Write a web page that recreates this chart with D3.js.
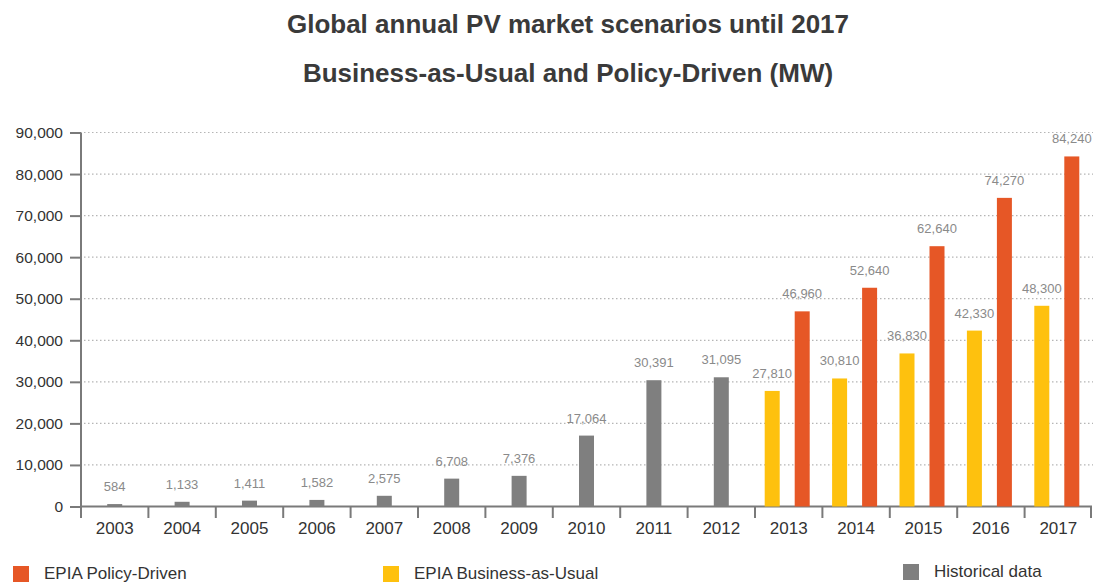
<!DOCTYPE html>
<html>
<head>
<meta charset="utf-8">
<script src="https://cdn.jsdelivr.net/npm/d3@7"></script>
<style>
  html, body { margin: 0; padding: 0; background: #fff; }
  svg { display: block; font-family: "Liberation Sans", Arial, Helvetica, sans-serif; }
</style>
</head>
<body>
<svg id="chart" width="1093" height="584"></svg>
<script>
// Annual installed PV capacity (MW)
const years = ["2003","2004","2005","2006","2007","2008","2009","2010",
               "2011","2012","2013","2014","2015","2016","2017"];
const historicalYears = ["2003","2004","2005","2006","2007","2008","2009","2010","2011","2012"];
const historicalValues = [584, 1133, 1411, 1582, 2575, 6708, 7376, 17064, 30391, 31095];
const scenarioYears = ["2013","2014","2015","2016","2017"];
const businessAsUsual = [27810, 30810, 36830, 42330, 48300];
const policyDriven = [46960, 52640, 62640, 74270, 84240];
const yTicks = [0, 10000, 20000, 30000, 40000, 50000, 60000, 70000, 80000, 90000];
const titleLines = ["Global annual PV market scenarios until 2017",
                    "Business-as-Usual and Policy-Driven (MW)"];
const legendItems = [
  { label: "EPIA Policy-Driven", key: "policy" },
  { label: "EPIA Business-as-Usual", key: "bau" },
  { label: "Historical data", key: "hist" }
];

const colors = { policy: "#E65726", bau: "#FEC10E", hist: "#7F7F7F" };
const axisColor = "#7a7a7a";

const svg = d3.select("#chart");

const x = d3.scaleBand().domain(years).range([81, 1092]).paddingInner(0).paddingOuter(0);
const y = d3.scaleLinear().domain([0, 90000]).range([506.5, 132.5]);
const bw = x.bandwidth();
// two scenario bars share a year slot, slightly left of centre
const xSub = d3.scaleBand().domain(["bau", "policy"])
  .range([bw / 2 - 24, bw / 2 + 21]).paddingInner(0.5).paddingOuter(0);
const barW = 15;
const fmt = d3.format(",");

// title
svg.append("g").selectAll("text").data(titleLines).join("text")
  .attr("x", 568).attr("y", (d, i) => 33 + i * 49)
  .attr("text-anchor", "middle")
  .attr("font-size", 26).attr("font-weight", "bold")
  .attr("fill", "#3a3a3a")
  .text(d => d);

// dotted gridlines
svg.append("g").selectAll("line").data(yTicks.filter(t => t > 0)).join("line")
  .attr("x1", 84).attr("x2", 1093)
  .attr("y1", d => y(d)).attr("y2", d => y(d))
  .attr("stroke", "#b5b5b5").attr("stroke-width", 1.2)
  .attr("stroke-dasharray", "1.5,2.5");

// y axis
const yAxis = svg.append("g").attr("transform", "translate(81,0)")
  .call(d3.axisLeft(y).tickValues(yTicks).tickFormat(fmt).tickSize(11).tickPadding(7));
yAxis.select(".domain").attr("stroke", axisColor).attr("stroke-width", 2)
  .attr("d", `M0,${y(90000)}V518`);
yAxis.selectAll(".tick line").attr("stroke", axisColor).attr("stroke-width", 2);
yAxis.selectAll(".tick text").attr("font-size", 15.5).attr("fill", "#333")
  .attr("font-family", "'Liberation Sans', Arial, sans-serif");

// x axis: baseline, slot separators and year labels
const xAxis = svg.append("g");
xAxis.append("line")
  .attr("x1", x.range()[0]).attr("x2", x.range()[1])
  .attr("y1", y(0)).attr("y2", y(0))
  .attr("stroke", axisColor).attr("stroke-width", 2);
xAxis.selectAll("line.sep").data(years.slice(1).concat(["end"])).join("line")
  .attr("class", "sep")
  .attr("x1", d => d === "end" ? x.range()[1] - 1 : x(d))
  .attr("x2", d => d === "end" ? x.range()[1] - 1 : x(d))
  .attr("y1", y(0)).attr("y2", 518)
  .attr("stroke", axisColor).attr("stroke-width", 2);
xAxis.selectAll("text").data(years).join("text")
  .attr("x", d => x(d) + bw / 2).attr("y", 534)
  .attr("text-anchor", "middle").attr("font-size", 17).attr("fill", "#333")
  .text(d => d);

// bars
const hist = historicalYears.map((yr, i) => ({ year: yr, value: historicalValues[i], key: "hist",
  cx: x(yr) + bw / 2 }));
const scen = scenarioYears.flatMap((yr, i) => [
  { year: yr, value: businessAsUsual[i], key: "bau", cx: x(yr) + xSub("bau") + xSub.bandwidth() / 2 },
  { year: yr, value: policyDriven[i], key: "policy", cx: x(yr) + xSub("policy") + xSub.bandwidth() / 2 }
]);
const bars = hist.concat(scen);

svg.append("g").selectAll("rect").data(bars).join("rect")
  .attr("x", d => d.cx - barW / 2).attr("width", barW)
  .attr("y", d => y(d.value)).attr("height", d => y(0) - y(d.value))
  .attr("fill", d => colors[d.key]);

// value labels
svg.append("g").selectAll("text").data(bars).join("text")
  .attr("x", d => d.cx).attr("y", d => y(d.value) - 13)
  .attr("text-anchor", "middle").attr("font-size", 13).attr("fill", "#8a8a8a")
  .text(d => fmt(d.value));

// legend
const legendPos = { policy: [13, 579], bau: [383, 579], hist: [903, 577] };
const lg = svg.append("g").selectAll("g").data(legendItems).join("g")
  .attr("transform", d => `translate(${legendPos[d.key][0]},${legendPos[d.key][1]})`);
lg.append("rect").attr("x", 0).attr("y", -13).attr("width", 16).attr("height", 16)
  .attr("fill", d => colors[d.key]);
lg.append("text").attr("x", 31).attr("y", 0)
  .attr("font-size", 17).attr("fill", "#333")
  .text(d => d.label);
</script>
</body>
</html>
